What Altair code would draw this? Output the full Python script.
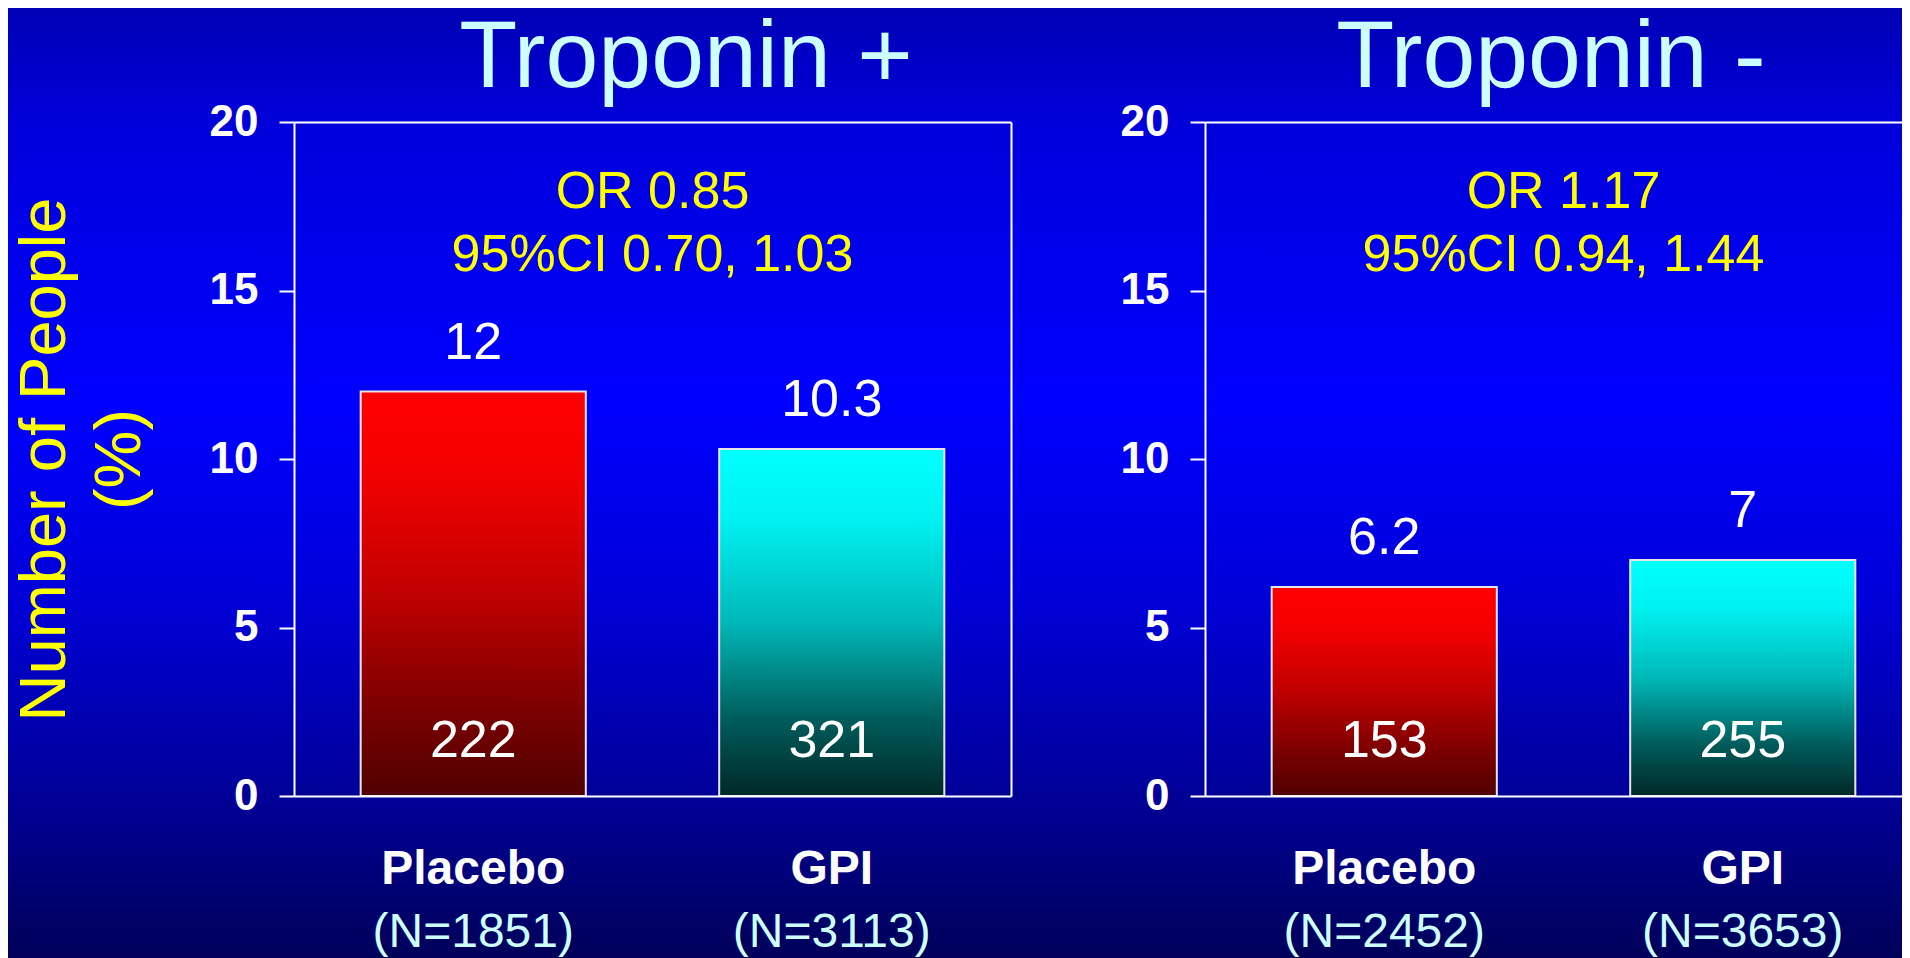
import altair as alt
import pandas as pd

FONT = "Liberation Sans"

panel_titles = ["Troponin +", "Troponin -"]
groups = ["Placebo", "GPI"]
pct_trop_pos = [12, 10.3]
pct_trop_neg = [6.2, 7]
events_trop_pos = [222, 321]
events_trop_neg = [153, 255]
n_trop_pos = [1851, 3113]
n_trop_neg = [2452, 3653]
or_labels = ["OR 0.85", "OR 1.17"]
ci_labels = ["95%CI 0.70, 1.03", "95%CI 0.94, 1.44"]
y_ticks = [0, 5, 10, 15, 20]
y_title = ["Number of People", "(%)"]

W, H = 717, 674


def grad(stops):
    return alt.Gradient(
        gradient="linear", x1=0, x2=0, y1=0, y2=1,
        stops=[alt.GradientStop(offset=o, color=c) for o, c in stops],
    )


bg_grad = grad([(0.0, "#0000b0"), (0.14, "#0000dc"), (0.42, "#0000ff"),
                (0.62, "#0000d8"), (0.82, "#000098"), (1.0, "#000054")])
red_grad = grad([(0.0, "#ff0000"), (0.2, "#f40000"), (0.5, "#c00000"),
                 (0.8, "#780000"), (1.0, "#500000")])
cyan_grad = grad([(0.0, "#00ffff"), (0.2, "#00f2f2"), (0.5, "#00b8b8"),
                  (0.78, "#005c5c"), (1.0, "#002828")])

X_SCALE = alt.Scale(domain=groups, paddingInner=0.372, paddingOuter=0.186)
Y_SCALE = alt.Scale(domain=[0, 20], nice=False)


def make_panel(idx, pct, events, ns, bg_x, bg_x2, title_x):
    df = pd.DataFrame({
        "group": groups,
        "pct": pct,
        "pct_label": [f"{v:g}" for v in pct],
        "events": [str(e) for e in events],
        "nlabel": [f"(N={n})" for n in ns],
    })
    ann = pd.DataFrame({"line": [or_labels[idx], ci_labels[idx]], "pct": [17.45, 15.57]})
    ttl = pd.DataFrame({"title": [panel_titles[idx]]})

    x_main = alt.X(
        "group:N", sort=groups, scale=X_SCALE,
        axis=alt.Axis(title=None, labelAngle=0, labelFont=FONT, labelFontSize=48,
                      labelFontWeight="bold", labelColor="white", labelLimit=0,
                      labelBaseline="alphabetic", labelPadding=87, ticks=False,
                      domainColor="white", domainWidth=2, zindex=2),
    )
    x_top = alt.X(
        "group:N", sort=groups, scale=X_SCALE,
        axis=alt.Axis(orient="top", title=None, labels=False, ticks=False,
                      domainColor="white", domainWidth=2, zindex=2),
    )
    x_none = alt.X("group:N", sort=groups, scale=X_SCALE, axis=None)

    y_main = alt.Y(
        "pct:Q", scale=Y_SCALE,
        axis=alt.Axis(
            values=y_ticks, grid=False, labelFont=FONT, labelFontSize=44,
            labelFontWeight="bold", labelColor="white", labelPadding=21,
            tickSize=15, tickColor="white", tickWidth=2,
            domainColor="white", domainWidth=2, zindex=2,
            title=y_title if idx == 0 else None,
            titleFont=FONT, titleFontSize=65, titleFontWeight="normal",
            titleColor="#ffff00", titleAngle=270, titleAlign="center",
            titleBaseline="alphabetic", titleX=-230, titleY=H / 2,
            titleLineHeight=75, titleLimit=0,
        ),
    )
    y_right = alt.Y(
        "pct:Q", scale=Y_SCALE,
        axis=alt.Axis(orient="right", title=None, labels=False, ticks=False,
                      grid=False, domainColor="white", domainWidth=2, zindex=2),
    )
    y_none = alt.Y("pct:Q", scale=Y_SCALE, axis=None)

    bg = alt.Chart(pd.DataFrame({"k": [0]})).mark_rect(fill=bg_grad).encode(
        x=alt.value(bg_x), x2=alt.value(bg_x2), y=alt.value(-130), y2=alt.value(850)
    )
    base = alt.Chart(df)
    bar_p = base.transform_filter(alt.datum.group == "Placebo").mark_bar(
        fill=red_grad, stroke="#e6e6e6", strokeWidth=2
    ).encode(x=x_main, y=y_main)
    bar_g = base.transform_filter(alt.datum.group == "GPI").mark_bar(
        fill=cyan_grad, stroke="#e6e6e6", strokeWidth=2
    ).encode(x=x_top, y=y_right)
    val_txt = base.mark_text(font=FONT, fontSize=52, color="white",
                             baseline="alphabetic", dy=-33).encode(
        x=x_none, y=y_none, text="pct_label:N")
    cnt_txt = base.mark_text(font=FONT, fontSize=52, color="white",
                             baseline="alphabetic", dy=-39).encode(
        x=x_none, y=alt.datum(0, scale=Y_SCALE, axis=None), text="events:N")
    n_txt = base.mark_text(font=FONT, fontSize=48, color="#ccffff",
                           baseline="alphabetic", dy=151).encode(
        x=x_none, y=alt.datum(0, scale=Y_SCALE, axis=None), text="nlabel:N")
    ann_txt = alt.Chart(ann).mark_text(font=FONT, fontSize=52, color="#ffff00",
                                       baseline="alphabetic").encode(
        y=y_none, text="line:N")
    title_txt = alt.Chart(ttl).mark_text(font=FONT, fontSize=95, color="#ccffff",
                                         baseline="alphabetic").encode(
        x=alt.value(title_x), y=alt.value(-35), text="title:N")

    return alt.layer(bg, bar_p, bar_g, val_txt, cnt_txt, n_txt, ann_txt, title_txt).resolve_axis(
        x="independent", y="independent"
    ).properties(width=W, height=H)


left = make_panel(0, pct_trop_pos, events_trop_pos, n_trop_pos, -300, 814, 392)
right = make_panel(1, pct_trop_neg, events_trop_neg, n_trop_neg, -97, 1000, 346)

chart = alt.hconcat(left, right, spacing=194, bounds="flush").properties(
    autosize=alt.AutoSizeParams(type="none"),
    padding={"left": 286, "top": 114, "right": 1608, "bottom": 828},
).configure_view(stroke=None, fill=None)

chart.save("out.html", embed_options={"renderer": "svg", "actions": False})
